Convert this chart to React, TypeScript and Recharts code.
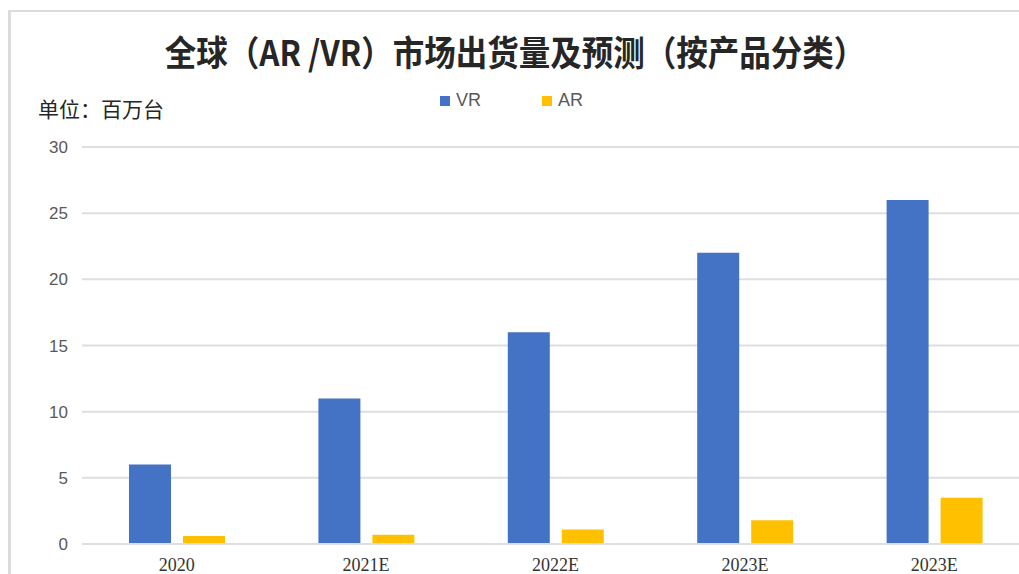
import { BarChart, Bar, XAxis, YAxis, CartesianGrid, Legend } from "recharts";

const categories = ["2020", "2021E", "2022E", "2023E", "2023E"];
const vrValues = [6, 11, 16, 22, 26];
const arValues = [0.6, 0.7, 1.1, 1.8, 3.5];
const yTicks = [0, 5, 10, 15, 20, 25, 30];

const VR_COLOR = "#4472C4";
const AR_COLOR = "#FFC000";

const data = categories.map((name, i) => ({ name, VR: vrValues[i], AR: arValues[i] }));

const legendItems = [
  { label: "VR", color: VR_COLOR },
  { label: "AR", color: AR_COLOR },
];

function renderLegend() {
  return (
    <div style={{ display: "flex", alignItems: "center" }}>
      {legendItems.map((it, i) => (
        <div
          key={it.label}
          style={{ display: "flex", alignItems: "center", marginRight: i === 0 ? 61 : 0 }}
        >
          <span style={{ width: 10, height: 10, background: it.color, display: "inline-block", marginRight: 6 }} />
          <span style={{ fontFamily: "'Liberation Sans', sans-serif", fontSize: 18, color: "#595959" }}>
            {it.label}
          </span>
        </div>
      ))}
    </div>
  );
}

export default function App() {
  return (
    <div
      style={{
        position: "absolute",
        left: 8,
        top: 10,
        width: 1011,
        height: 564,
        overflow: "hidden",
        boxSizing: "border-box",
        borderLeft: "3px solid #dcdcdc",
        borderTop: "2px solid #dcdcdc",
        background: "#fff",
      }}
    >
      <div
        style={{
          position: "absolute",
          left: 0,
          top: 19,
          width: 1008,
          textAlign: "center",
          fontFamily: "'Noto Sans CJK SC', sans-serif",
          fontWeight: 700,
          fontSize: 35,
          lineHeight: "40px",
          color: "#262626",
          transform: "scaleX(0.9)",
          transformOrigin: "center",
          whiteSpace: "nowrap",
        }}
      >
        全球（AR /VR）市场出货量及预测（按产品分类）
      </div>
      <div
        style={{
          position: "absolute",
          left: 27,
          top: 84,
          fontFamily: "'Noto Sans CJK SC', sans-serif",
          fontSize: 21,
          lineHeight: "24px",
          color: "#262626",
          whiteSpace: "nowrap",
        }}
      >
        单位：百万台
      </div>
      <div style={{ position: "absolute", left: 0, top: 0 }}>
        <BarChart
          width={1030}
          height={562}
          data={data}
          margin={{ top: 135, right: 12, bottom: 0, left: 11 }}
          barSize={42}
          barGap={12}
        >
          <CartesianGrid vertical={false} stroke="#dedede" strokeWidth={2} />
          <XAxis
            dataKey="name"
            height={30}
            tickLine={false}
            tickSize={0}
            tickMargin={14}
            axisLine={{ stroke: "#dedede", strokeWidth: 2 }}
            tick={{ fontFamily: "'Liberation Serif', serif", fontSize: 18, fill: "#333333" }}
          />
          <YAxis
            width={60}
            domain={[0, 30]}
            ticks={yTicks}
            axisLine={false}
            tickLine={false}
            tickSize={0}
            tickMargin={14}
            tick={{ fontFamily: "'Liberation Sans', sans-serif", fontSize: 17, fill: "#595959" }}
          />
          <Legend
            layout="horizontal"
            verticalAlign="middle"
            align="center"
            content={renderLegend}
            wrapperStyle={{ position: "absolute", top: 78, left: 429, width: "auto" }}
          />
          <Bar dataKey="VR" fill={VR_COLOR} isAnimationActive={false} />
          <Bar dataKey="AR" fill={AR_COLOR} isAnimationActive={false} />
        </BarChart>
      </div>
    </div>
  );
}
